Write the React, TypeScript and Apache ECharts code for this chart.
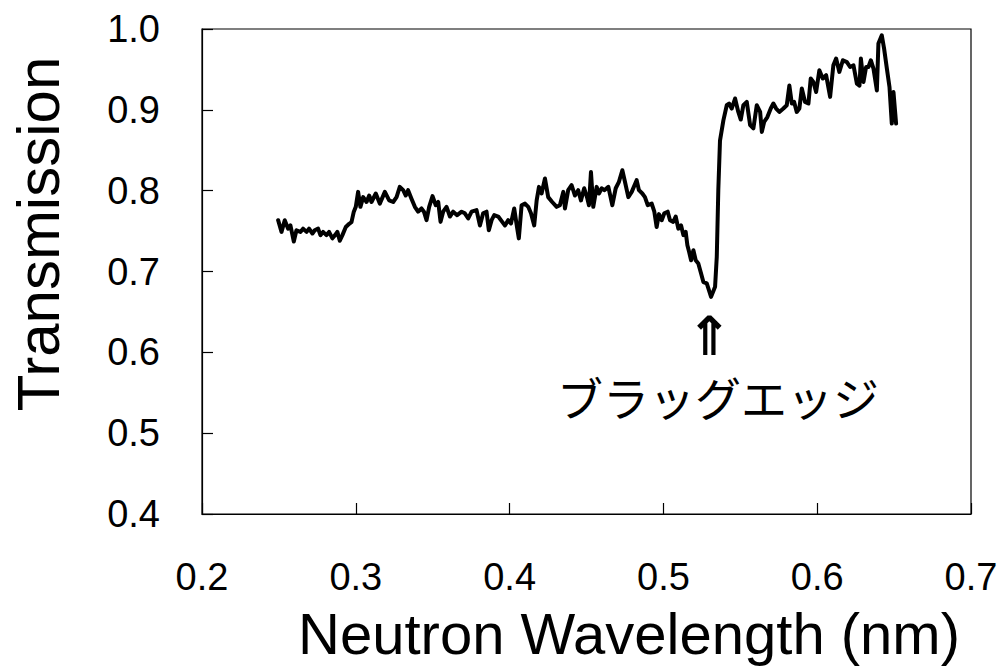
import React, { useEffect, useRef } from "react";
import * as echarts from "echarts";

const wavelength: number[] = [
  0.2495, 0.2517, 0.2538, 0.256, 0.2575, 0.2597, 0.2614, 0.264, 0.2657, 0.268,
  0.2696, 0.2718, 0.2733, 0.2755, 0.277, 0.2787, 0.2809, 0.2826, 0.2848, 0.2865,
  0.288, 0.2896, 0.2913, 0.2935, 0.2957, 0.2972, 0.2987, 0.3, 0.3015, 0.303,
  0.3048, 0.307, 0.3087, 0.3102, 0.313, 0.3156, 0.3189, 0.3217, 0.3243, 0.3265,
  0.3286, 0.3308, 0.3325, 0.334, 0.3362, 0.3384, 0.3405, 0.3427, 0.3443, 0.346,
  0.3477, 0.3499, 0.352, 0.3536, 0.3551, 0.3568, 0.359, 0.3612, 0.3633, 0.3659,
  0.3688, 0.3709, 0.3731, 0.3753, 0.3785, 0.3807, 0.3828, 0.385, 0.3865, 0.3883,
  0.39, 0.3926, 0.3952, 0.397, 0.3991, 0.4009, 0.403, 0.4048, 0.406, 0.4078,
  0.41, 0.4121, 0.4139, 0.416, 0.4176, 0.4191, 0.4208, 0.423, 0.4251, 0.4277,
  0.4306, 0.4327, 0.4349, 0.436, 0.4381, 0.4403, 0.4425, 0.4446, 0.4464, 0.4485,
  0.4503, 0.4516, 0.4529, 0.4544, 0.4566, 0.4581, 0.4599, 0.4616, 0.4642, 0.4668,
  0.469, 0.4711, 0.4733, 0.475, 0.4772, 0.4794, 0.4826, 0.4841, 0.4863, 0.488,
  0.4898, 0.4924, 0.4941, 0.4956, 0.4971, 0.4989, 0.5006, 0.5028, 0.5043, 0.5064,
  0.508, 0.5097, 0.5115, 0.513, 0.5145, 0.5156, 0.5167, 0.518, 0.5195, 0.521,
  0.5227, 0.5245, 0.526, 0.5282, 0.531, 0.5336, 0.5347, 0.5357, 0.5368, 0.539,
  0.5412, 0.5427, 0.5444, 0.5466, 0.5487, 0.5503, 0.552, 0.5542, 0.5564, 0.5585,
  0.5607, 0.5629, 0.564, 0.5655, 0.5676, 0.5698, 0.5715, 0.5733, 0.5754, 0.578,
  0.5802, 0.5819, 0.5835, 0.585, 0.5867, 0.5884, 0.59, 0.5921, 0.5943, 0.5958,
  0.5975, 0.5993, 0.6014, 0.6036, 0.6058, 0.6084, 0.6105, 0.6123, 0.6144, 0.6167,
  0.6193, 0.6214, 0.6236, 0.6258, 0.6275, 0.6284, 0.6301, 0.6318, 0.6333, 0.6349,
  0.6366, 0.6388, 0.6398, 0.642, 0.6435, 0.6453, 0.647, 0.6485, 0.6496, 0.6513,
];

const transmission: number[] = [
  0.7635, 0.749, 0.7635, 0.753, 0.757, 0.737, 0.751, 0.749, 0.753, 0.749,
  0.753, 0.747, 0.751, 0.753, 0.745, 0.749, 0.745, 0.749, 0.741, 0.745,
  0.749, 0.738, 0.745, 0.755, 0.759, 0.761, 0.774, 0.78, 0.7985, 0.78,
  0.792, 0.786, 0.794, 0.786, 0.7965, 0.784, 0.7985, 0.788, 0.786, 0.792,
  0.8047, 0.8006, 0.794, 0.8006, 0.79, 0.78, 0.774, 0.778, 0.774, 0.7635,
  0.78, 0.7932, 0.782, 0.786, 0.7614, 0.774, 0.78, 0.768, 0.774, 0.7697,
  0.774, 0.772, 0.7656, 0.774, 0.776, 0.757, 0.772, 0.774, 0.751, 0.7635,
  0.7697, 0.768, 0.7614, 0.757, 0.7635, 0.7594, 0.778, 0.755, 0.741, 0.782,
  0.784, 0.78, 0.772, 0.757, 0.788, 0.8047, 0.7965, 0.815, 0.792, 0.786,
  0.78, 0.782, 0.7985, 0.778, 0.8006, 0.8068, 0.794, 0.8006, 0.788, 0.803,
  0.792, 0.782, 0.823, 0.78, 0.8047, 0.7965, 0.803, 0.8006, 0.8047, 0.782,
  0.803, 0.811, 0.8253, 0.811, 0.792, 0.7985, 0.813, 0.8006, 0.7965, 0.792,
  0.782, 0.784, 0.774, 0.755, 0.771, 0.7635, 0.772, 0.774, 0.7635, 0.7614,
  0.768, 0.753, 0.757, 0.745, 0.749, 0.7326, 0.7243, 0.714, 0.7264, 0.714,
  0.71, 0.6975, 0.687, 0.6854, 0.6686, 0.681, 0.718, 0.8006, 0.862, 0.887,
  0.9057, 0.9078, 0.9016, 0.914, 0.8974, 0.888, 0.9057, 0.9098, 0.881, 0.877,
  0.9057, 0.8974, 0.8727, 0.885, 0.891, 0.9016, 0.9078, 0.9016, 0.8974, 0.9016,
  0.9057, 0.93, 0.9078, 0.9098, 0.8974, 0.9016, 0.9263, 0.9098, 0.9078, 0.9387,
  0.9345, 0.922, 0.949, 0.9387, 0.9428, 0.916, 0.955, 0.9634, 0.9469, 0.9613,
  0.959, 0.953, 0.955, 0.9325, 0.93, 0.9634, 0.9345, 0.953, 0.953, 0.9613,
  0.951, 0.924, 0.982, 0.9922, 0.9757, 0.951, 0.9283, 0.883, 0.922, 0.883,
];

const xTitle = "Neutron Wavelength (nm)";
const yTitle = "Transmission";
const edgeLabel = "ブラッグエッジ";
const edgeArrow = "⇑";

const LATIN = '"Liberation Sans", Arial, sans-serif';
const CJK = '"Noto Sans CJK JP", "DejaVu Sans", sans-serif';

export default function App() {
  const ref = useRef<HTMLDivElement>(null);

  useEffect(() => {
    if (!ref.current) return;
    const chart = echarts.init(ref.current, null, { renderer: "svg" });
    const points = wavelength.map((x, i) => [x, transmission[i]]);
    chart.setOption({
      animation: false,
      backgroundColor: "#ffffff",
      grid: {
        left: 202,
        top: 29,
        right: 36,
        bottom: 154,
        show: true,
        borderColor: "#000",
        borderWidth: 1.2,
        backgroundColor: "transparent",
      },
      xAxis: {
        type: "value",
        min: 0.2,
        max: 0.7,
        interval: 0.1,
        axisLine: { show: true, lineStyle: { color: "#000", width: 1.2 } },
        axisTick: { show: true, inside: true, length: 11, lineStyle: { color: "#000", width: 1.2 } },
        splitLine: { show: false },
        axisLabel: {
          color: "#000",
          fontSize: 38,
          fontFamily: LATIN,
          margin: 44,
          showMaxLabel: true,
          showMinLabel: true,
          formatter: (v: number) => v.toFixed(1),
        },
      },
      yAxis: {
        type: "value",
        min: 0.4,
        max: 1.0,
        interval: 0.1,
        axisLine: { show: true, lineStyle: { color: "#000", width: 1.2 } },
        axisTick: { show: true, inside: true, length: 11, lineStyle: { color: "#000", width: 1.2 } },
        splitLine: { show: false },
        axisLabel: {
          color: "#000",
          fontSize: 38,
          fontFamily: LATIN,
          margin: 42,
          formatter: (v: number) => v.toFixed(1),
        },
      },
      series: [
        {
          type: "line",
          data: points,
          showSymbol: false,
          symbol: "none",
          lineStyle: { color: "#000", width: 4, join: "round", cap: "round" },
        },
      ],
      graphic: [
        {
          type: "text",
          x: 629,
          y: 633,
          style: {
            text: xTitle,
            fill: "#000",
            font: `58px ${LATIN}`,
            textAlign: "center",
            textVerticalAlign: "middle",
          },
        },
        {
          type: "text",
          x: 38,
          y: 234,
          rotation: Math.PI / 2,
          style: {
            text: yTitle,
            fill: "#000",
            font: `60px ${LATIN}`,
            textAlign: "center",
            textVerticalAlign: "middle",
          },
        },
        {
          type: "text",
          x: 709,
          y: 331,
          style: {
            text: edgeArrow,
            fill: "#000",
            font: `bold 54px ${CJK}`,
            textAlign: "center",
            textVerticalAlign: "middle",
          },
        },
        {
          type: "text",
          x: 718,
          y: 396,
          style: {
            text: edgeLabel,
            fill: "#000",
            font: `46px ${CJK}`,
            textAlign: "center",
            textVerticalAlign: "middle",
          },
        },
      ],
    });
    return () => chart.dispose();
  }, []);

  return <div ref={ref} style={{ width: 1007, height: 668, position: "absolute", left: 0, top: 0 }} />;
}
